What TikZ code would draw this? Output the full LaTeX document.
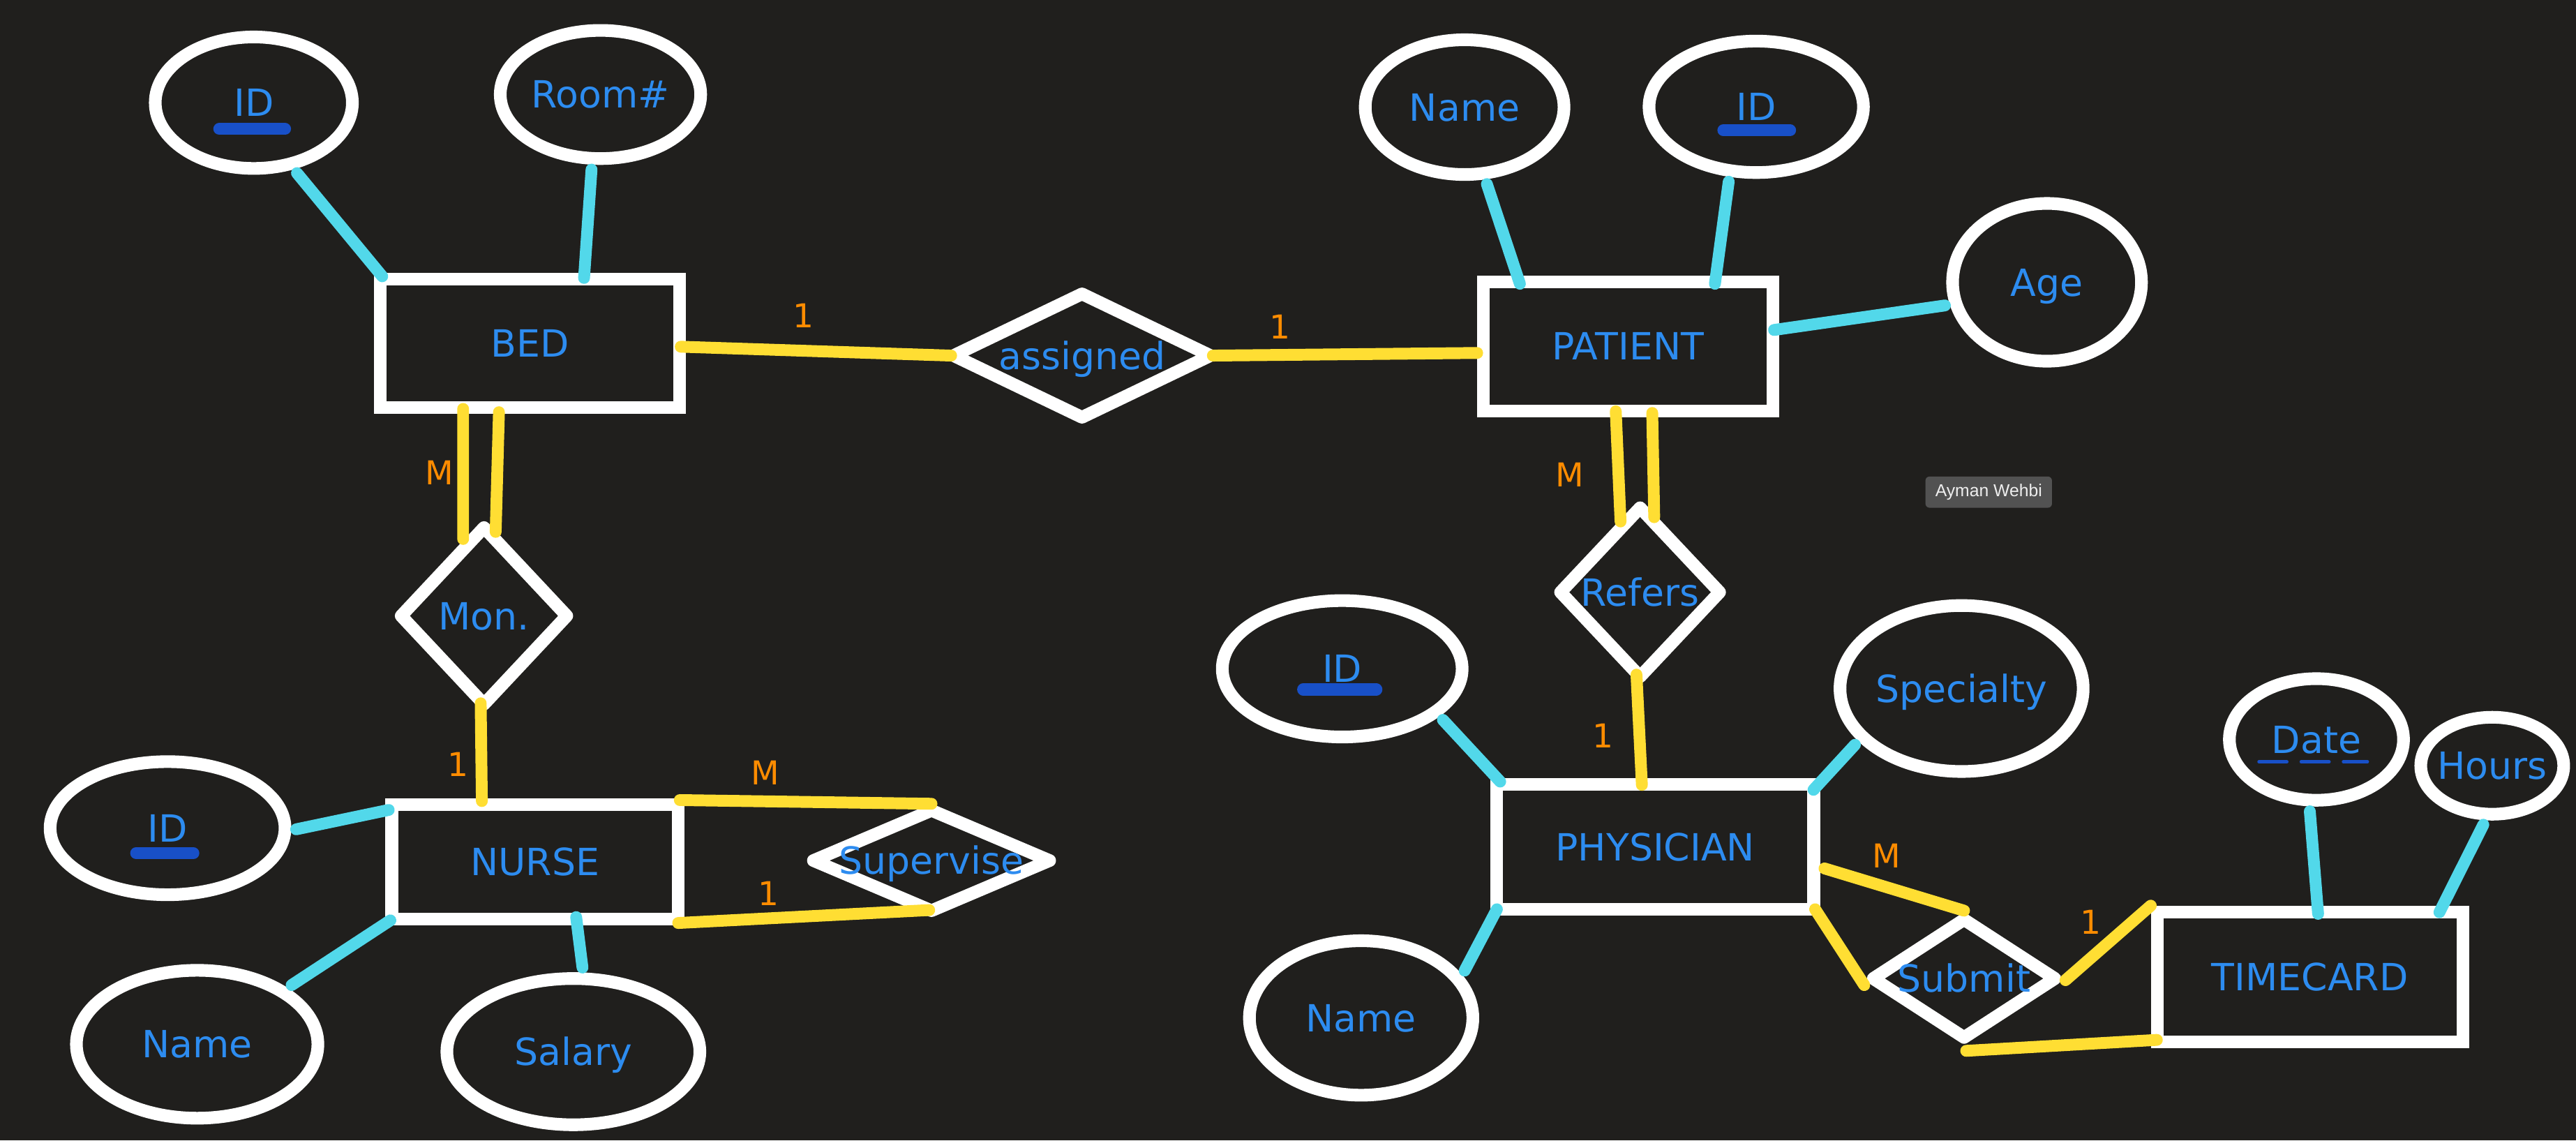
\documentclass[tikz,border=0pt]{standalone}
\usepackage{fontspec}
\usepackage{xcolor}
\usepackage{tikz}
\usetikzlibrary{shapes.geometric}
\usetikzlibrary{calc}

\newfontfamily\erfont{DejaVu Sans}
\newfontfamily\tipfont{Liberation Sans}

\definecolor{bgdark}{RGB}{32,31,29}
\definecolor{erblue}{RGB}{45,140,240}
\definecolor{keyblue}{RGB}{24,80,200}
\definecolor{attrcyan}{RGB}{82,216,234}
\definecolor{relyellow}{RGB}{255,222,51}
\definecolor{cardorange}{RGB}{255,140,0}
\definecolor{tipgray}{RGB}{82,82,82}
\definecolor{tipwhite}{RGB}{238,238,238}

\begin{document}
\begin{tikzpicture}[x=1pt, y=-1pt,
  entity/.style={rectangle, draw=white, line width=7.7pt, text=erblue,
    font=\erfont\fontsize{22.8}{27}\selectfont, text height=16.6pt, text depth=0pt},
  attr/.style={ellipse, draw=white, line width=7.7pt, inner sep=0pt},
  rel/.style={diamond, draw=white, line width=7.7pt, line join=round, inner sep=0pt},
  every label/.style={text=erblue, font=\erfont\fontsize{22.8}{27}\selectfont,
    text height=16.6pt, text depth=0pt, inner sep=0pt},
  attrline/.style={attrcyan, line width=7.2pt, line cap=round, shorten <=3pt},
  relline/.style={relyellow, line width=7.2pt, line cap=round},
  card/.style={text=cardorange, font=\erfont\fontsize{20}{24}\selectfont,
    text height=14.6pt, text depth=0pt, inner sep=0pt},
  keybar/.style={keyblue, line width=7.3pt, line cap=round},
  partkey/.style={keyblue, line width=2pt, line cap=round, dash pattern=on 17pt off 8.7pt},
  tip/.style={fill=tipgray, rounded corners=2.5pt, text=tipwhite, inner sep=0pt,
    font=\tipfont\fontsize{10.5}{12}\selectfont, minimum width=77, minimum height=19}]

  % 1. Sfondo scuro
  \fill[bgdark] (0,0) rectangle (1568,694);

  % 2. Entita'
  \node[entity, minimum width=182, minimum height=78] (bed) at (322.5,209) {BED};
  \node[entity, minimum width=176, minimum height=78.5] (patient) at (991,210.8) {PATIENT};
  \node[entity, minimum width=174.5, minimum height=69.5] (nurse) at (325.7,524.5) {NURSE};
  \node[entity, minimum width=193, minimum height=76] (physician) at (1007.5,515.5) {PHYSICIAN};
  \node[entity, minimum width=186, minimum height=79] (timecard) at (1406,594.5) {TIMECARD};

  % 3. Relazioni
  \node[rel, minimum width=159.6, minimum height=78.3, label=center:assigned] (assigned) at (658.6,216.4) {};
  \node[rel, minimum width=104, minimum height=110.7, label=center:Mon.] (mon) at (294.6,374.8) {};
  \node[rel, minimum width=100, minimum height=106, label=center:Refers] (refers) at (998.3,360.4) {};
  \node[rel, minimum width=147, minimum height=64.2, label=center:Supervise] (supervise) at (567,523.7) {};
  \node[rel, minimum width=113.8, minimum height=74.9, label=center:Submit] (submit) at (1195.5,595.5) {};

  % 4. Attributi
  \node[attr, minimum width=120, minimum height=80, label=center:ID] (bid) at (154.5,62.5) {};
  \node[attr, minimum width=122, minimum height=78, label={center:Room\#}] (broom) at (365.5,57.5) {};
  \node[attr, minimum width=121, minimum height=82, label=center:Name] (pname) at (891.5,65.2) {};
  \node[attr, minimum width=130.5, minimum height=80, label=center:ID] (pid) at (1069,65) {};
  \node[attr, minimum width=115, minimum height=96, label=center:Age] (page) at (1246,171.8) {};
  \node[attr, minimum width=146, minimum height=83, label=center:ID] (phid) at (817,407) {};
  \node[attr, minimum width=148, minimum height=101, label=center:Specialty] (phspec) at (1194,419) {};
  \node[attr, minimum width=136, minimum height=94, label=center:Name] (phname) at (828.5,619.5) {};
  \node[attr, minimum width=106, minimum height=74, label=center:Date] (tdate) at (1410,450) {};
  \node[attr, minimum width=87, minimum height=59, label=center:Hours] (thours) at (1517,466) {};
  \node[attr, minimum width=143, minimum height=81, label=center:ID] (nid) at (102,504) {};
  \node[attr, minimum width=147, minimum height=90, label=center:Name] (nname) at (120,635.5) {};
  \node[attr, minimum width=154, minimum height=89, label=center:Salary] (nsal) at (349,640) {};

  % Chiavi sottolineate
  \draw[keybar] ($(bid)+(-21,16)$) -- ($(bid)+(19,16)$);
  \draw[keybar] ($(pid)+(-20,14.3)$) -- ($(pid)+(20.6,14.3)$);
  \draw[keybar] ($(phid)+(-23.8,12.6)$) -- ($(phid)+(20.8,12.6)$);
  \draw[keybar] ($(nid)+(-19.1,15.2)$) -- ($(nid)+(15.7,15.2)$);
  \draw[partkey] ($(tdate)+(-35,13.6)$) -- ($(tdate)+(31,13.6)$);

  % 5. Collegamenti degli attributi
  \draw[attrline] (bid.-59) -- ($(bed.north west)+(5,2)$);
  \draw[attrline] (broom.-97) -- ($(bed.north)+(33,3)$);
  \draw[attrline] (pname.-74) -- ($(patient.north west)+(26,5)$);
  \draw[attrline] (pid.-111) -- ($(patient.north east)+(-39,5)$);
  \draw[attrline] (page.193) -- ($(patient.east)+(-3,-10)$);
  \draw[attrline] (phid.-26) -- ($(physician.north west)+(6,2)$);
  \draw[attrline] (phspec.-153) -- ($(physician.north east)+(-4,7)$);
  \draw[attrline] (phname.23) -- ($(physician.south west)+(4,-4)$);
  \draw[attrline] (tdate.-96) -- ($(timecard.north)+(5,5)$);
  \draw[attrline] (thours.-97) -- ($(timecard.north east)+(-18,4)$);
  \draw[attrline] (nid.-1) -- ($(nurse.north west)+(2,7)$);
  \draw[attrline] (nname.32) -- ($(nurse.south west)+(3,-3)$);
  \draw[attrline] (nsal.83) -- ($(nurse.south)+(25,-5)$);

  % 6. Collegamenti delle relazioni
  \draw[relline] ($(bed.east)+(-3,2)$) -- ($(assigned.west)+(4,0)$);
  \draw[relline] ($(assigned.east)+(-4,0)$) -- ($(patient.west)+(0,4)$);
  \draw[relline] ($(bed.south)+(-40.6,-3)$) -- ($(mon.north)+(-12.7,12.4)$);
  \draw[relline] ($(bed.south)+(-18.8,-1)$) -- ($(mon.north)+(7.1,8.1)$);
  \draw[relline] ($(mon.south)+(-2,-6)$) -- ($(nurse.north)+(-32.4,1.6)$);
  \draw[relline] ($(patient.south)+(-7.5,-3.6)$) -- ($(refers.north)+(-11.9,13.8)$);
  \draw[relline] ($(patient.south)+(14.7,-2.6)$) -- ($(refers.north)+(8.6,11.2)$);
  \draw[relline] ($(refers.south)+(-2.2,-6.7)$) -- ($(physician.north)+(-8.1,4)$);
  \draw[relline] ($(nurse.north east)+(-3,1)$) -- ($(supervise.north)+(0,1.4)$);
  \draw[relline] ($(nurse.south east)+(-4,-1.4)$) -- ($(supervise.south)+(-1.4,-5.8)$);
  \draw[relline] ($(physician.east)+(2.7,13)$) -- (submit.north);
  \draw[relline] ($(physician.south east)+(-3,-4)$) -- ($(submit.west)+(0,4)$);
  \draw[relline] ($(submit.east)+(1,1)$) -- (timecard.north west);
  \draw[relline] ($(submit.south)+(1.3,2.7)$) -- ($(timecard.south west)+(3.7,-5)$);

  % Cardinalita'
  \node[card] (cbeda) at (489,192) {1};
  \node[card] (capat) at (779.2,198.9) {1};
  \node[card] (cbedm) at (267.6,287.6) {M};
  \node[card] (cmonn) at (278.6,465) {1};
  \node[card] (cpatr) at (955.3,288.8) {M};
  \node[card] (crefp) at (975.6,447.8) {1};
  \node[card] (cnsupm) at (465.9,470.4) {M};
  \node[card] (cnsup1) at (468,543.6) {1};
  \node[card] (cphsub) at (1148.3,521) {M};
  \node[card] (csubt) at (1272.4,561) {1};

  % 7. Etichetta dell'autore
  \node[tip] (tooltip) at (1210.5,299.5) {Ayman Wehbi};

\end{tikzpicture}
\end{document}
